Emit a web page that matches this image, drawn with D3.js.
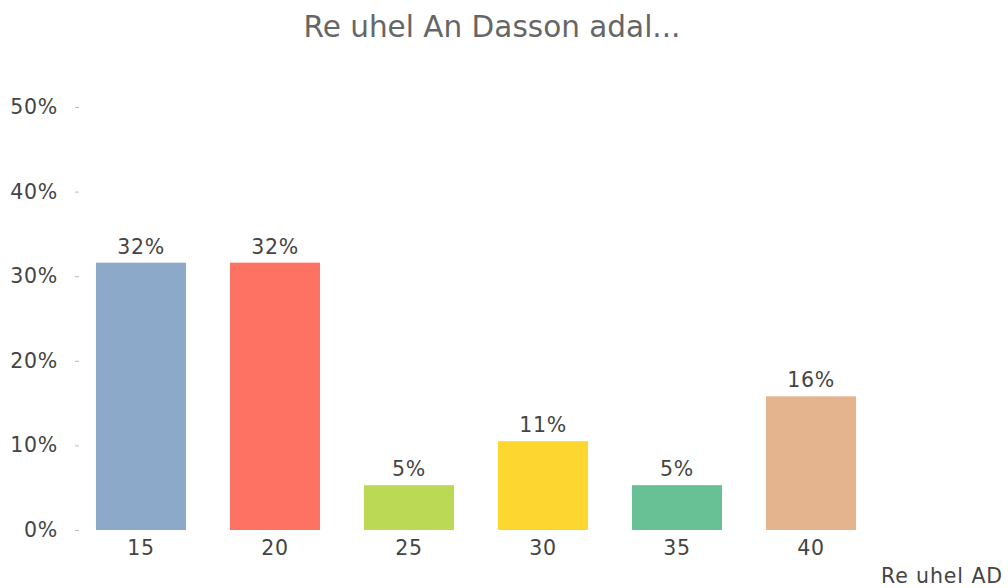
<!DOCTYPE html>
<html>
<head>
<meta charset="utf-8">
<script src="https://cdn.jsdelivr.net/npm/d3@7"></script>
<style>
  body { margin: 0; background: #fff; }
  svg { display: block; font-family: "DejaVu Sans", sans-serif; }
</style>
</head>
<body>
<svg id="chart" width="1008" height="588"></svg>
<script>
// data
var categories = ["15", "20", "25", "30", "35", "40"];
var shares = [0.316, 0.316, 0.053, 0.105, 0.053, 0.158];
var barLabels = ["32%", "32%", "5%", "11%", "5%", "16%"];
var yTicks = [0, 0.1, 0.2, 0.3, 0.4, 0.5];
var colors = ["#8da9ca", "#fe7263", "#bcd955", "#fed630", "#67c194", "#e4b48f"];

var svg = d3.select("#chart");

var x = d3.scaleBand()
  .domain(categories)
  .range([74, 878])
  .paddingInner(0.328)
  .paddingOuter(0.164);

var y = d3.scaleLinear()
  .domain([0, 0.5])
  .range([530, 107]);

// title
svg.append("text")
  .attr("x", 492)
  .attr("y", 37)
  .attr("text-anchor", "middle")
  .attr("font-size", 29.5)
  .attr("fill", "#666")
  .text("Re uhel An Dasson adal...");

// y axis
var yAxis = svg.append("g")
  .attr("transform", "translate(79,0)")
  .call(d3.axisLeft(y).tickValues(yTicks).tickFormat(d3.format(".0%")).tickSize(4).tickPadding(17));
yAxis.select(".domain").remove();
yAxis.selectAll(".tick line").attr("stroke", "#bbb");
yAxis.selectAll(".tick text")
  .attr("font-size", 20.5)
  .attr("letter-spacing", 0.7)
  .attr("font-family", "DejaVu Sans, sans-serif")
  .attr("fill", "#444");

// x axis
var xAxis = svg.append("g")
  .attr("transform", "translate(0,530)")
  .call(d3.axisBottom(x).tickSize(0).tickPadding(10));
xAxis.select(".domain").remove();
xAxis.selectAll(".tick text")
  .attr("font-size", 20.5)
  .attr("letter-spacing", 0.7)
  .attr("font-family", "DejaVu Sans, sans-serif")
  .attr("fill", "#444");

svg.append("text")
  .attr("x", 1003)
  .attr("y", 583)
  .attr("text-anchor", "end")
  .attr("font-size", 20.5)
  .attr("letter-spacing", 0.9)
  .attr("fill", "#444")
  .text("Re uhel AD");

// bars
svg.selectAll(".bar")
  .data(categories)
  .enter().append("rect")
  .attr("class", "bar")
  .attr("x", function (d) { return x(d); })
  .attr("y", function (d, i) { return y(shares[i]); })
  .attr("width", x.bandwidth())
  .attr("height", function (d, i) { return y(0) - y(shares[i]); })
  .attr("fill", function (d, i) { return colors[i]; });

svg.selectAll(".bar-label")
  .data(categories)
  .enter().append("text")
  .attr("class", "bar-label")
  .attr("x", function (d) { return x(d) + x.bandwidth() / 2; })
  .attr("y", function (d, i) { return y(shares[i]) - 9; })
  .attr("text-anchor", "middle")
  .attr("font-size", 20.5)
  .attr("letter-spacing", 0.7)
  .attr("fill", "#444")
  .text(function (d, i) { return barLabels[i]; });
</script>
</body>
</html>
